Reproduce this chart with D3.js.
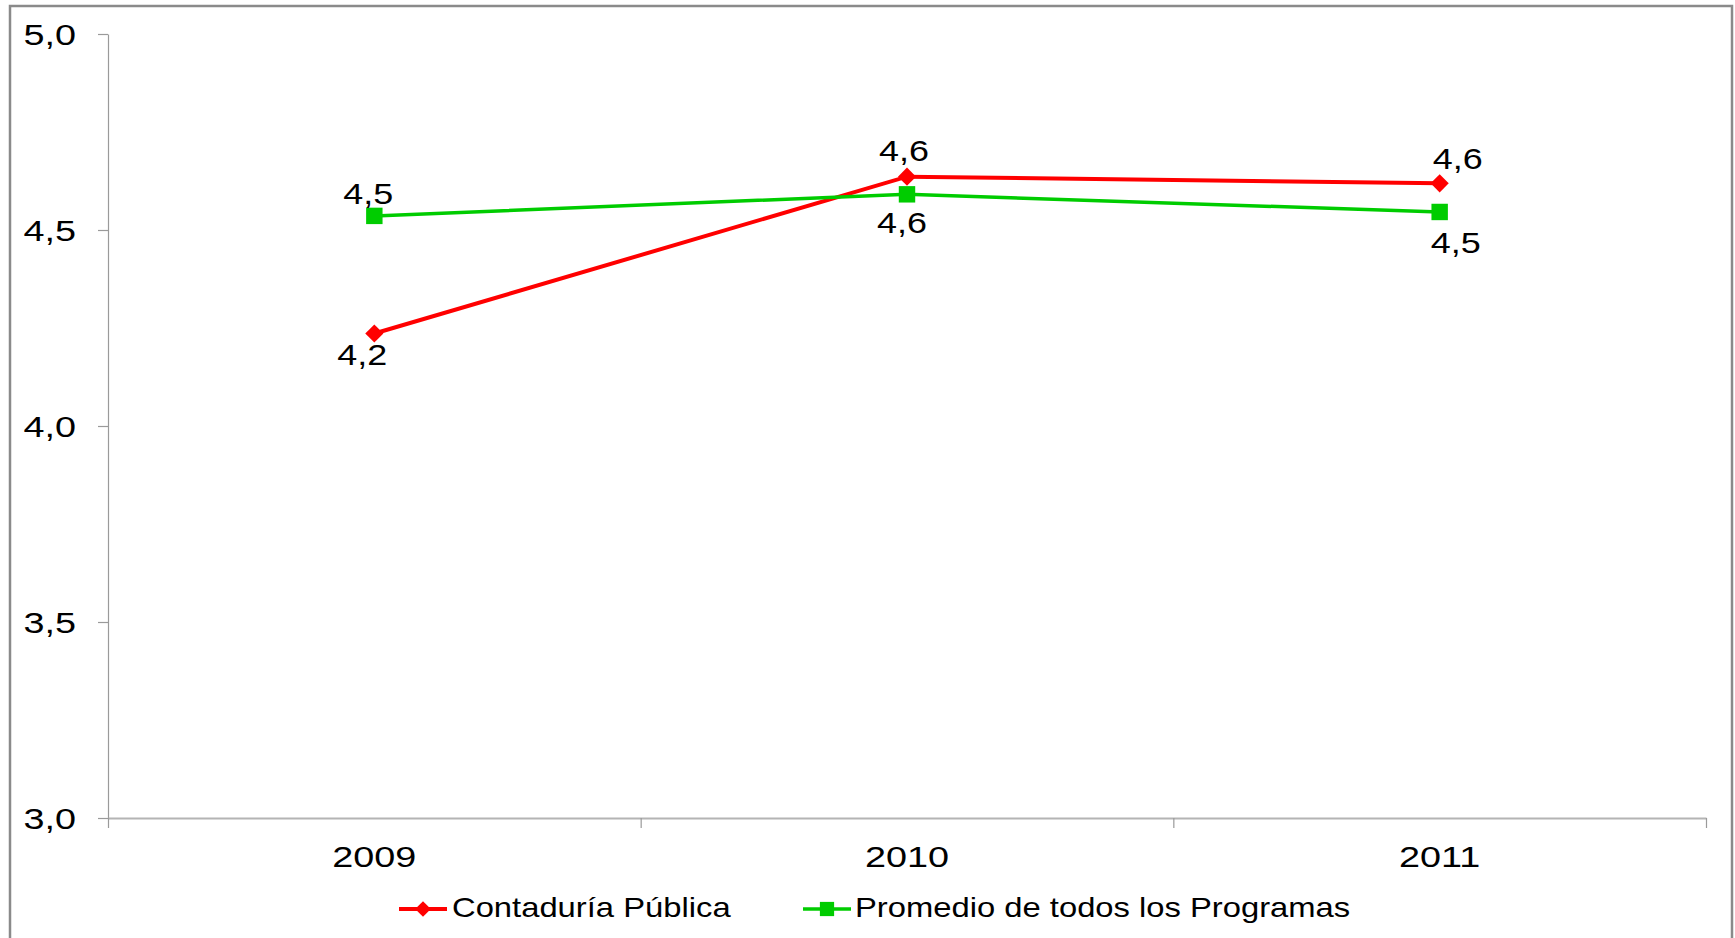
<!DOCTYPE html>
<html>
<head>
<meta charset="utf-8">
<script src="https://cdn.jsdelivr.net/npm/d3@7"></script>
<style>
  body { margin: 0; background: #fff; }
  text { font-family: "Liberation Sans", Arial, sans-serif; fill: #000; }
</style>
</head>
<body>
<div class="chart"></div>
<script>
// Data
var years = ["2009", "2010", "2011"];
var seriesNames = ["Contaduría Pública", "Promedio de todos los Programas"];
var contaduria = [4.236, 4.636, 4.619];
var promedio = [4.536, 4.591, 4.546];
var yTicks = [3.0, 3.5, 4.0, 4.5, 5.0];

// label placement (dx, dy from the point), like Excel put them
var redLabelOffsets = [[-12, 32], [-3, -16], [18, -14]];
var greenLabelOffsets = [[-6, -12], [-5, 39], [16, 41]];

var svgWidth = 1735;
var svgHeight = 938;

var plotLeft = 108, plotRight = 1706, plotTop = 34, plotBottom = 818;

// the original text is drawn a bit wider than normal Arial
var tickStretch = 1.26, labelStretch = 1.24, legendStretch = 1.17;

var svg = d3.select(".chart")
  .append("svg")
  .attr("width", svgWidth)
  .attr("height", svgHeight);

// outer frame
svg.append("rect")
  .attr("x", 10).attr("y", 6)
  .attr("width", 1722).attr("height", 950)
  .attr("fill", "#fff")
  .attr("stroke", "#8a8a8a")
  .attr("stroke-width", 2.5);

var locale = d3.formatLocale({ decimal: ",", thousands: ".", grouping: [3], currency: ["$", ""] });
var fmt = locale.format(".1f");

var x = d3.scaleBand().domain(years).range([plotLeft, plotRight]).padding(0);
var xEdge = d3.scaleLinear().domain([0, years.length]).range([plotLeft, plotRight]);
var y = d3.scaleLinear().domain([3, 5]).range([plotBottom, plotTop]);

// y axis
var yAxis = svg.append("g")
  .attr("transform", "translate(" + plotLeft + ",0)")
  .call(d3.axisLeft(y).tickValues(yTicks).tickSize(10).tickSizeOuter(0).tickPadding(22).tickFormat(fmt));
yAxis.select(".domain").attr("stroke", "#9a9a9a").attr("stroke-width", 1.2);
yAxis.selectAll(".tick line").attr("stroke", "#9a9a9a").attr("stroke-width", 1.2);
yAxis.selectAll(".tick text")
  .style("font-size", "30px")
  .attr("fill", "#000")
  .attr("x", -32 / tickStretch)
  .attr("dy", "0.35em")
  .attr("transform", "scale(" + tickStretch + ",1)");

// x axis: boundary ticks
var xAxis = svg.append("g")
  .attr("transform", "translate(0," + plotBottom + ")")
  .call(d3.axisBottom(xEdge).tickValues(d3.range(years.length + 1)).tickSize(10).tickSizeOuter(0).tickFormat(""));
xAxis.select(".domain").attr("stroke", "#b4b4b4").attr("stroke-width", 2);
xAxis.selectAll(".tick line").attr("stroke", "#9a9a9a").attr("stroke-width", 1.2);

// x axis: labels
var xLabels = svg.append("g")
  .attr("transform", "translate(0," + plotBottom + ")")
  .call(d3.axisBottom(x).tickSize(0).tickPadding(28));
xLabels.select(".domain").remove();
xLabels.selectAll(".tick text")
  .style("font-size", "30px")
  .attr("fill", "#000")
  .attr("transform", "scale(" + tickStretch + ",1)");

// lines
var line = d3.line()
  .x(function(d, i) { return x(years[i]) + x.bandwidth() / 2; })
  .y(function(d) { return y(d); });

var series = [
  { name: seriesNames[0], values: contaduria, color: "#ff0000", width: 4, symbol: d3.symbolDiamond2, size: 210, offsets: redLabelOffsets },
  { name: seriesNames[1], values: promedio, color: "#00cc00", width: 3.5, symbol: d3.symbolSquare, size: 270, offsets: greenLabelOffsets }
];

series.forEach(function(s) {
  svg.append("path")
    .datum(s.values)
    .attr("fill", "none")
    .attr("stroke", s.color)
    .attr("stroke-width", s.width)
    .attr("d", line);

  svg.selectAll(null)
    .data(s.values)
    .enter()
    .append("path")
    .attr("d", d3.symbol().type(s.symbol).size(s.size))
    .attr("fill", s.color)
    .attr("transform", function(d, i) {
      return "translate(" + (x(years[i]) + x.bandwidth() / 2) + "," + y(d) + ")";
    });

  svg.selectAll(null)
    .data(s.values)
    .enter()
    .append("text")
    .attr("transform", function(d, i) {
      var tx = x(years[i]) + x.bandwidth() / 2 + s.offsets[i][0];
      var ty = y(d) + s.offsets[i][1];
      return "translate(" + tx + "," + ty + ") scale(" + labelStretch + ",1)";
    })
    .attr("text-anchor", "middle")
    .style("font-size", "29px")
    .text(function(d) { return fmt(d); });
});

// legend
var legendItems = [
  { x: 399, textX: 452 },
  { x: 803, textX: 855 }
];
var legendY = 909;
series.forEach(function(s, i) {
  var g = svg.append("g");
  g.append("line")
    .attr("x1", legendItems[i].x).attr("x2", legendItems[i].x + 48)
    .attr("y1", legendY).attr("y2", legendY)
    .attr("stroke", s.color).attr("stroke-width", s.width);
  g.append("path")
    .attr("d", d3.symbol().type(s.symbol).size(s.size * 0.75))
    .attr("fill", s.color)
    .attr("transform", "translate(" + (legendItems[i].x + 24) + "," + legendY + ")");
  g.append("text")
    .attr("transform", "translate(" + legendItems[i].textX + "," + (legendY + 8) + ") scale(" + legendStretch + ",1)")
    .style("font-size", "28px")
    .text(s.name);
});
</script>
</body>
</html>
